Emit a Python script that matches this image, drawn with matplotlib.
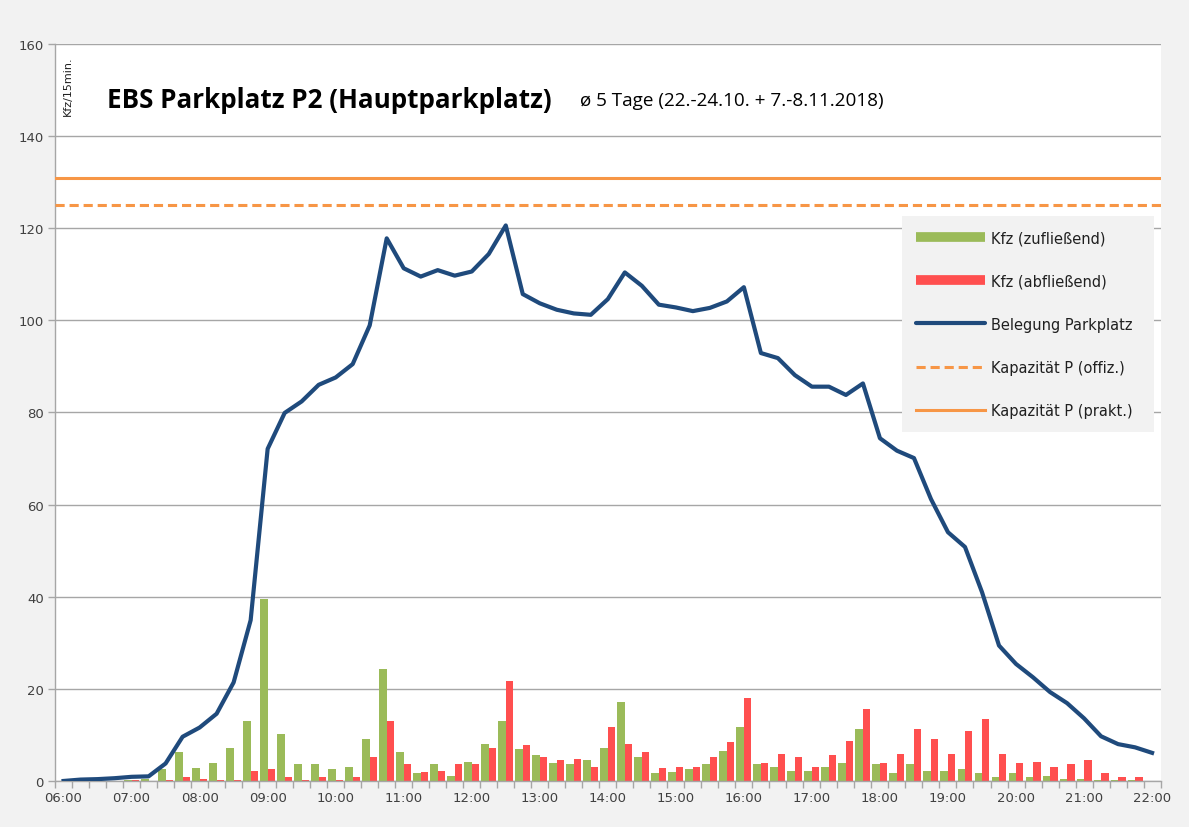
import matplotlib
matplotlib.use("Agg")
import matplotlib.pyplot as plt
from matplotlib.lines import Line2D
import numpy as np

# ---- data (15-min categories, 06:00 .. 22:00) ----
hour_labels = ["06:00", "07:00", "08:00", "09:00", "10:00", "11:00", "12:00", "13:00",
               "14:00", "15:00", "16:00", "17:00", "18:00", "19:00", "20:00", "21:00", "22:00"]

zufliessend = [0, 0, 0, 0, 0.3, 0.5, 2.7, 6.2, 2.75, 4.0, 7.2, 13.0, 39.5, 10.1, 3.6, 3.6,
               2.5, 3.0, 9.2, 24.3, 6.2, 1.7, 3.6, 1.1, 4.2, 8.1, 13.1, 7.0, 5.6, 4.0, 3.6, 4.5,
               7.2, 17.2, 5.3, 1.7, 2.0, 2.5, 3.6, 6.4, 11.7, 3.6, 3.1, 2.2, 2.2, 3.1, 4.0, 11.2,
               3.6, 1.7, 3.6, 2.2, 2.2, 2.5, 1.7, 0.8, 1.7, 0.8, 1.1, 0.5, 0.5, 0.3, 0.3, 0.3, 0]

abfliessend = [0, 0, 0, 0, 0.3, 0, 0.3, 0.9, 0.5, 0.3, 0.3, 2.2, 2.5, 0.9, 0.3, 0.9,
               0.3, 0.9, 5.3, 13.1, 3.6, 2.0, 2.2, 3.6, 3.6, 7.2, 21.7, 7.8, 5.3, 4.5, 4.8, 3.1,
               11.7, 8.1, 6.2, 2.8, 3.1, 3.1, 5.1, 8.4, 18.1, 4.0, 5.9, 5.1, 3.1, 5.6, 8.7, 15.7,
               4.0, 5.9, 11.2, 9.2, 5.9, 10.9, 13.4, 5.9, 4.0, 4.2, 3.1, 3.6, 4.5, 1.7, 0.9, 0.9, 0]

belegung = [0.0, 0.3, 0.4, 0.6, 0.9, 1.0, 3.8, 9.6, 11.6, 14.6, 21.4, 34.9, 72.1, 79.9, 82.4, 86.0,
            87.6, 90.5, 98.9, 117.8, 111.3, 109.5, 110.9, 109.7, 110.6, 114.4, 120.6, 105.7, 103.7,
            102.3, 101.5, 101.2, 104.6, 110.4, 107.5, 103.4, 102.8, 102.0, 102.7, 104.1, 107.2,
            92.9, 91.8, 88.1, 85.6, 85.6, 83.8, 86.3, 74.4, 71.7, 70.1, 61.2, 54.0, 50.8, 41.0,
            29.4, 25.4, 22.5, 19.3, 16.9, 13.6, 9.7, 8.0, 7.3, 6.1]

kap_offiz = 125
kap_prakt = 131

GREEN = "#9BBB59"
RED = "#FF4F4F"
BLUE = "#1F4A7C"
ORANGE = "#F79646"
GRID = "#A6A6A6"

fig = plt.figure(figsize=(11.89, 8.28), dpi=100, facecolor="#F2F2F2")
ax = fig.add_axes([0.0463, 0.0556, 0.9298, 0.8901])
ax.set_facecolor("white")

n = len(belegung)
x = np.arange(n)
w = 0.44
ax.bar(x - w / 2, zufliessend, width=w, color=GREEN, zorder=2)
ax.bar(x + w / 2, abfliessend, width=w, color=RED, zorder=2)
ax.plot(x, belegung, color=BLUE, lw=3.0, zorder=4, solid_joinstyle="round")
ax.axhline(kap_offiz, color=ORANGE, lw=2.2, ls=(0, (3, 1.6)), zorder=3)
ax.axhline(kap_prakt, color=ORANGE, lw=2.2, zorder=3)

ax.set_xlim(-0.5, n - 0.5)
ax.set_ylim(0, 160)
ax.set_yticks(np.arange(0, 161, 20))
ax.yaxis.grid(True, color=GRID, lw=1.0, zorder=0)
ax.set_axisbelow(True)

# x ticks: labels at hours, tick marks at category boundaries
ax.set_xticks(np.arange(0, n, 4))
ax.set_xticklabels(hour_labels)
ax.set_xticks(np.arange(-0.5, n, 1), minor=True)
ax.tick_params(axis="x", which="major", length=0, pad=7, labelsize=9.5, colors="#404040")
ax.tick_params(axis="x", which="minor", length=5, color=GRID, width=1)
ax.tick_params(axis="y", length=5, color=GRID, width=1, labelsize=9.5, colors="#404040", pad=3)
for lab in ax.get_xticklabels() + ax.get_yticklabels():
    lab.set_color("#404040")

for s in ["top", "right"]:
    ax.spines[s].set_visible(False)
for s in ["left", "bottom"]:
    ax.spines[s].set_color(GRID)
    ax.spines[s].set_linewidth(1)

# y-axis unit label inside plot
ax.text(0.0075, 0.985, "Kfz/15min.", transform=ax.transAxes, rotation=90,
        ha="left", va="top", fontsize=8, color="#202020")

# title and subtitle
fig.text(107 / 1189, 1 - 101 / 828, "EBS Parkplatz P2 (Hauptparkplatz)", fontsize=18.7,
         fontweight="bold", family="Open Sans", ha="left", va="center", color="black")
fig.text(580 / 1189, 1 - 101 / 828, "ø 5 Tage (22.-24.10. + 7.-8.11.2018)", fontsize=13.6,
         family="Open Sans", ha="left", va="center", color="black")

handles = [
    Line2D([0], [0], color=GREEN, lw=7, solid_capstyle="butt"),
    Line2D([0], [0], color=RED, lw=7, solid_capstyle="butt"),
    Line2D([0], [0], color=BLUE, lw=3, solid_capstyle="round"),
    Line2D([0], [0], color=ORANGE, lw=2.2, ls=(0, (3, 1.6))),
    Line2D([0], [0], color=ORANGE, lw=2.2),
]
labels = ["Kfz (zufließend)", "Kfz (abfließend)", "Belegung Parkplatz",
          "Kapazität P (offiz.)", "Kapazität P (prakt.)"]
leg = ax.legend(handles, labels, loc="upper left",
                bbox_to_anchor=(0.766, 0.767, 0.228, 0.0), mode="expand",
                frameon=True, facecolor="#F2F2F2", edgecolor="none", framealpha=1,
                fancybox=False, fontsize=10.5, handlelength=4.7, handletextpad=0.4,
                labelspacing=1.93, borderpad=1.0, borderaxespad=0)
for t in leg.get_texts():
    t.set_color("#202020")
leg.set_zorder(5)

fig.savefig("out.png", dpi=100, facecolor=fig.get_facecolor())
